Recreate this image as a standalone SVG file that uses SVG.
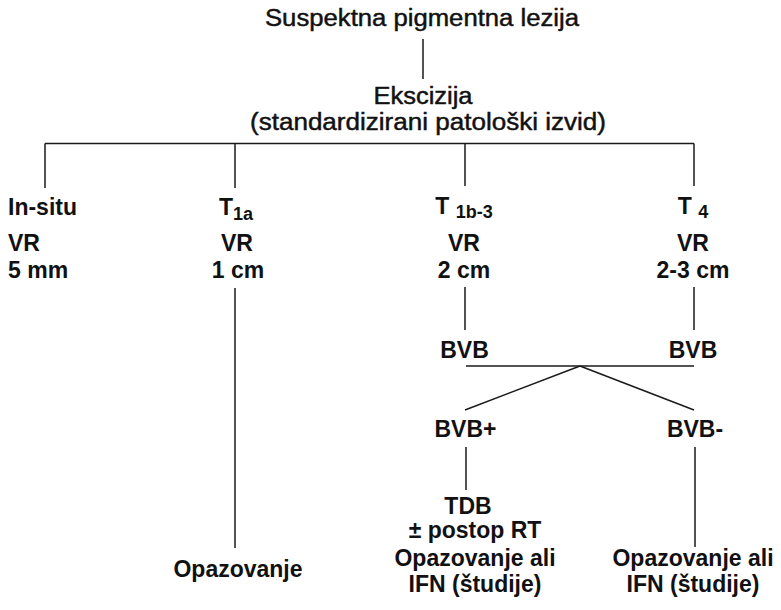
<svg xmlns="http://www.w3.org/2000/svg" width="781" height="610" viewBox="0 0 781 610">
  <style>
    .t { font-family: "Liberation Sans", Arial, sans-serif; fill: #111; }
    .top { font-size: 23px; font-weight: normal; text-anchor: middle; stroke: #111; stroke-width: 0.45px; }
    .lb { font-size: 23px; font-weight: bold; text-anchor: middle; }
    .ls { font-size: 23px; font-weight: bold; text-anchor: start; }
    .sub { font-size: 18px; }
    .c { stroke: #1a1a1a; stroke-width: 1.5; fill: none; }
  </style>
  <rect width="781" height="610" fill="#fff"/>
  <g id="connectors">
    <line class="c" x1="423" y1="39" x2="423" y2="79"/>
    <line class="c" x1="45" y1="143.5" x2="694" y2="143.5"/>
    <line class="c" x1="45" y1="143.5" x2="45" y2="188"/>
    <line class="c" x1="235" y1="143.5" x2="235" y2="188"/>
    <line class="c" x1="465" y1="143.5" x2="465" y2="186"/>
    <line class="c" x1="694" y1="143.5" x2="694" y2="186"/>
    <line class="c" x1="235" y1="288" x2="235" y2="548"/>
    <line class="c" x1="465" y1="287" x2="465" y2="330"/>
    <line class="c" x1="694" y1="287" x2="694" y2="330"/>
    <line class="c" x1="466" y1="366" x2="694" y2="366"/>
    <line class="c" x1="580" y1="366" x2="465" y2="410"/>
    <line class="c" x1="580" y1="366" x2="694" y2="410"/>
    <line class="c" x1="466" y1="447" x2="466" y2="490"/>
    <line class="c" x1="695" y1="447" x2="695" y2="547"/>
  </g>
  <g id="n-lesion">
    <text class="t top" x="422" y="26" textLength="314" lengthAdjust="spacingAndGlyphs">Suspektna pigmentna lezija</text>
  </g>
  <g id="n-excision">
    <text class="t top" x="423" y="104" textLength="99" lengthAdjust="spacingAndGlyphs">Ekscizija</text>
    <text class="t top" x="428" y="130" textLength="356" lengthAdjust="spacingAndGlyphs">(standardizirani patološki izvid)</text>
  </g>
  <g id="n-insitu">
    <text class="t ls" x="8" y="215">In-situ</text>
    <text class="t ls" x="8" y="251">VR</text>
    <text class="t ls" x="8" y="278">5 mm</text>
  </g>
  <g id="n-t1a">
    <text class="t lb" x="236" y="215">T<tspan class="sub" dy="5">1a</tspan></text>
    <text class="t lb" x="237" y="251">VR</text>
    <text class="t lb" x="238" y="278">1 cm</text>
  </g>
  <g id="n-t1b3">
    <text class="t lb" x="464" y="214">T <tspan class="sub" dy="4">1b-3</tspan></text>
    <text class="t lb" x="464" y="251">VR</text>
    <text class="t lb" x="464" y="278">2 cm</text>
  </g>
  <g id="n-t4">
    <text class="t lb" x="693" y="214">T <tspan class="sub" dy="4">4</tspan></text>
    <text class="t lb" x="693" y="251">VR</text>
    <text class="t lb" x="693" y="278">2-3 cm</text>
  </g>
  <g id="n-bvb1">
    <text class="t lb" x="464.5" y="358">BVB</text>
  </g>
  <g id="n-bvb2">
    <text class="t lb" x="693" y="358">BVB</text>
  </g>
  <g id="n-bvbplus">
    <text class="t lb" x="465.5" y="437">BVB+</text>
  </g>
  <g id="n-bvbminus">
    <text class="t lb" x="695" y="437">BVB-</text>
  </g>
  <g id="n-obs1">
    <text class="t lb" x="238" y="577">Opazovanje</text>
  </g>
  <g id="n-tdb">
    <text class="t lb" x="468" y="514">TDB</text>
    <text class="t lb" x="475" y="538">± postop RT</text>
    <text class="t lb" x="475" y="566">Opazovanje ali</text>
    <text class="t lb" x="475" y="592">IFN (študije)</text>
  </g>
  <g id="n-obs2">
    <text class="t lb" x="693" y="566">Opazovanje ali</text>
    <text class="t lb" x="693" y="592">IFN (študije)</text>
  </g>
</svg>
